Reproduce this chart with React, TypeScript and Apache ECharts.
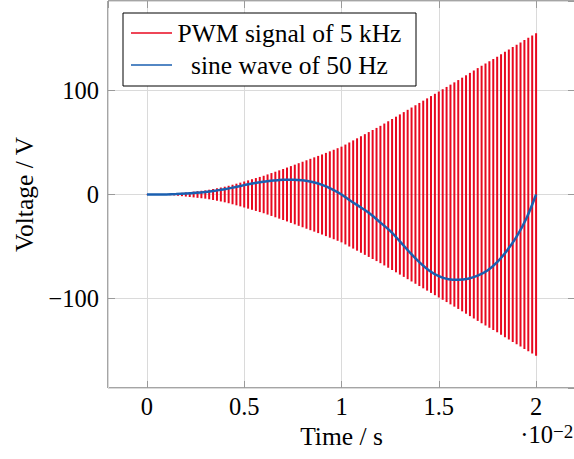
import React, { useEffect, useRef } from "react";
import * as echarts from "echarts";

// Time axis in units of 10^-2 s
const sineTimes = [
  0, 0.05, 0.1, 0.15, 0.2, 0.25, 0.3, 0.35, 0.4, 0.45, 0.5, 0.55, 0.6, 0.65, 0.7, 0.75, 0.8, 0.85, 0.9, 0.95,
  1.0, 1.05, 1.1, 1.15, 1.2, 1.25, 1.3, 1.35, 1.4, 1.45, 1.5, 1.55, 1.6, 1.65, 1.7, 1.75, 1.8, 1.85, 1.9, 1.95, 2.0,
];
// sine wave of 50 Hz (V)
const sineValues = [
  0, 0, 0.1, 0.4, 0.9, 1.6, 2.5, 3.7, 5.1, 7.0, 9.0, 10.9, 12.3, 13.4, 14.1, 14.2, 13.6, 12.0, 9.3, 5.2,
  0, -6.5, -12.5, -19, -27, -35, -45, -55.5, -65, -73, -78.5, -81.5, -82, -81, -78, -73, -65, -54, -40.5, -23, 0,
];
// PWM pulse period (0.2 ms = 0.02 x 10^-2 s) and pulse amplitudes (V) read at each pulse
const PWM_PERIOD = 0.02;
const pwmPeaks = [
  0, 0.05, 0.1, 0.2, 0.3, 0.5, 0.7, 0.9, 1.2, 1.6,
  2.0, 2.4, 2.8, 3.2, 3.6, 4.0, 4.6, 5.3, 6.0, 6.7,
  7.5, 8.4, 9.4, 10.4, 11.4, 12.5, 13.6, 14.7, 15.8, 16.9,
  18.0, 19.3, 20.6, 21.9, 23.2, 24.5, 25.9, 27.3, 28.7, 30.1,
  31.5, 32.9, 34.3, 35.7, 37.1, 38.5, 40.0, 41.5, 43.0, 44.5,
  46.0, 48.0, 50.0, 52.0, 54.0, 56.0, 58.0, 60.0, 62.0, 64.0,
  66.0, 68.2, 70.4, 72.6, 74.8, 77.0, 79.2, 81.4, 83.6, 85.8,
  88.0, 90.2, 92.4, 94.6, 96.8, 99.0, 101.2, 103.4, 105.6, 107.8,
  110.0, 112.3, 114.6, 116.9, 119.2, 121.5, 123.7, 125.9, 128.1, 130.3,
  132.5, 134.8, 137.1, 139.4, 141.7, 144.0, 146.2, 148.4, 150.6, 152.8,
  155.0,
];
const seriesNames = ["PWM signal of 5 kHz", "sine wave of 50 Hz"];

const RED = "#e8081f";
const BLUE = "#1a5fb0";
const FONT = "'Liberation Serif', serif";
const GRID_COLOR = "#dadada";
const FRAME_COLOR = "#4a4a4a";
const TICK_COLOR = "#9a9a9a";
const TICK_SIZE = 24.5;
const NAME_SIZE = 25.5;

export default function App() {
  const ref = useRef<HTMLDivElement>(null);

  useEffect(() => {
    if (!ref.current) return;
    const chart = echarts.init(ref.current, undefined, { renderer: "svg" });

    const pwmData = pwmPeaks.map((a, i) => [i * PWM_PERIOD, a]);
    const sineData = sineTimes.map((t, i) => [t, sineValues[i]]);

    const fmtNum = (v: number) => String(v).replace("-", "\u2212");

    const xCommon = {
      type: "value" as const,
      min: -0.2,
      max: 2.2,
      splitNumber: 5,
      axisTick: { show: true, inside: true, length: 7, lineStyle: { color: TICK_COLOR } },
      axisLine: { show: false, onZero: false },
    };
    const yCommon = {
      type: "value" as const,
      min: -186,
      max: 186,
      splitNumber: 5,
      axisTick: { show: true, inside: true, length: 7, lineStyle: { color: TICK_COLOR } },
      axisLine: { show: false, onZero: false },
    };

    chart.setOption({
      animation: false,
      backgroundColor: "#fff",
      grid: {
        left: 108,
        right: -1,
        top: 1,
        bottom: 71,
        show: true,
        borderColor: FRAME_COLOR,
        borderWidth: 1,
        containLabel: false,
        outerBoundsMode: "none",
      },
      legend: {
        orient: "vertical",
        left: 123,
        top: 13,
        padding: [7, 14, 8, 8],
        itemGap: 6,
        itemWidth: 41,
        itemHeight: 1.6,
        backgroundColor: "#fff",
        borderColor: "#000",
        borderWidth: 1,
        borderRadius: 0,
        data: seriesNames.map((n) => ({ name: n, icon: "rect" })),
        formatter: (name: string) => `{t|${name}}`,
        textStyle: {
          fontFamily: FONT,
          fontSize: NAME_SIZE,
          color: "#000",
          lineHeight: 24,
          rich: {
            t: { width: 225, align: "center", fontFamily: FONT, fontSize: NAME_SIZE, color: "#000", lineHeight: 24 },
          },
        },
      },
      xAxis: [
        {
          ...xCommon,
          position: "bottom",
          name: "Time / s",
          nameLocation: "middle",
          nameGap: 31,
          nameTextStyle: { fontFamily: FONT, fontSize: NAME_SIZE, color: "#000" },
          axisLabel: {
            fontFamily: FONT,
            fontSize: TICK_SIZE,
            color: "#000",
            margin: 6,
            showMinLabel: false,
            showMaxLabel: false,
            formatter: fmtNum,
          },
          splitLine: { show: true, lineStyle: { color: GRID_COLOR, width: 1 } },
        },
        {
          ...xCommon,
          position: "top",
          axisLabel: { show: false },
          splitLine: { show: false },
        },
      ],
      yAxis: [
        {
          ...yCommon,
          position: "left",
          name: "Voltage / V",
          nameLocation: "middle",
          nameGap: 70,
          nameTextStyle: { fontFamily: FONT, fontSize: NAME_SIZE, color: "#000" },
          axisLabel: {
            fontFamily: FONT,
            fontSize: TICK_SIZE,
            color: "#000",
            margin: 9,
            showMinLabel: false,
            showMaxLabel: false,
            formatter: fmtNum,
          },
          splitLine: { show: true, lineStyle: { color: GRID_COLOR, width: 1 } },
        },
        {
          ...yCommon,
          position: "right",
          axisLabel: { show: false },
          splitLine: { show: false },
        },
      ],
      graphic: [
        {
          type: "text",
          x: 553,
          y: 434.5,
          style: { text: "\u00b710", fontFamily: FONT, fontSize: TICK_SIZE, fill: "#000", align: "right", verticalAlign: "middle" },
        },
        {
          type: "text",
          x: 553,
          y: 431,
          style: { text: "\u22122", fontFamily: FONT, fontSize: 19, fill: "#000", align: "left", verticalAlign: "middle" },
        },
      ],
      series: [
        {
          name: seriesNames[0],
          type: "custom",
          xAxisIndex: 0,
          yAxisIndex: 0,
          itemStyle: { color: RED },
          encode: { x: 0, y: 1 },
          data: pwmData,
          renderItem: (_params: any, api: any) => {
            const t = api.value(0);
            const a = api.value(1);
            const top = api.coord([t, a]);
            const bot = api.coord([t, -a]);
            return {
              type: "rect",
              shape: { x: top[0] - 1, y: top[1], width: 2, height: Math.max(bot[1] - top[1], 0.3) },
              style: { fill: RED },
            };
          },
          z: 2,
        },
        {
          name: seriesNames[1],
          type: "line",
          xAxisIndex: 0,
          yAxisIndex: 0,
          data: sineData,
          showSymbol: false,
          smooth: 0.4,
          itemStyle: { color: BLUE },
          lineStyle: { color: BLUE, width: 2.5 },
          z: 3,
        },
      ],
    });

    return () => chart.dispose();
  }, []);

  return <div ref={ref} style={{ width: 574, height: 459, position: "absolute", left: 0, top: 0 }} />;
}
